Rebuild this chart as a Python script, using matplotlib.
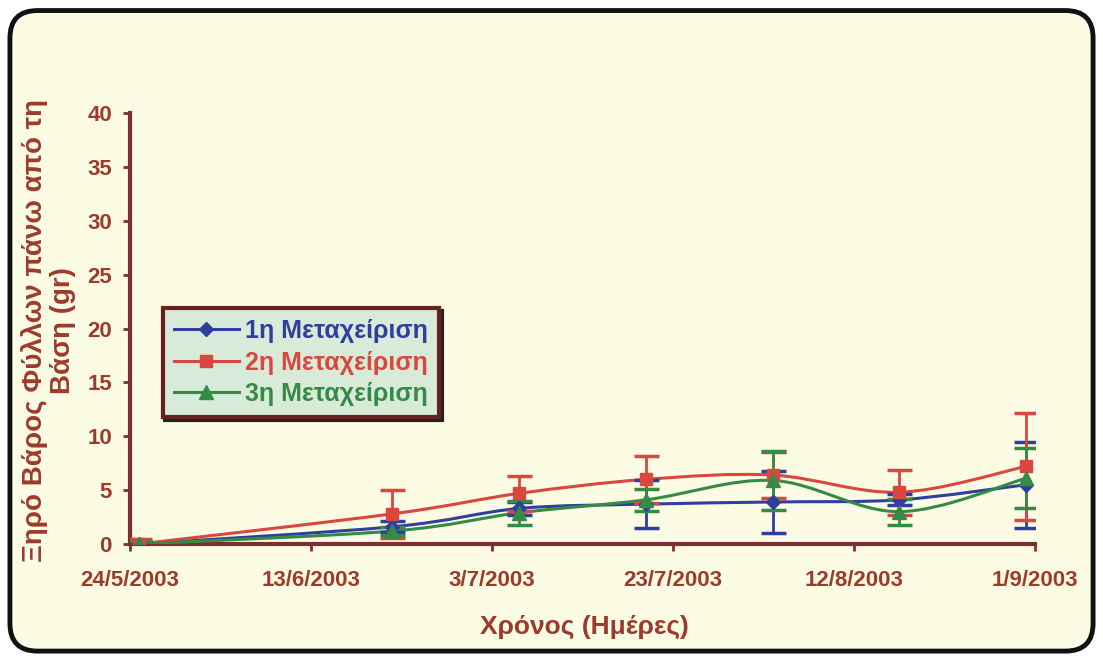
import matplotlib
matplotlib.use("Agg")
import matplotlib.pyplot as plt
from matplotlib.path import Path
from matplotlib.patches import PathPatch, FancyBboxPatch
from matplotlib.lines import Line2D
import pandas as pd
import numpy as np

# --- data ---
dates = ["2003-05-25", "2003-06-22", "2003-07-06", "2003-07-20",
         "2003-08-03", "2003-08-17", "2003-08-31"]
t1_mean = [0.0, 1.6, 3.3, 3.7, 3.9, 4.1, 5.5]
t1_err = [0.3, 0.5, 0.6, 2.2, 2.9, 0.5, 4.0]
t2_mean = [0.0, 2.8, 4.7, 6.0, 6.4, 4.8, 7.2]
t2_err = [0.5, 2.2, 1.6, 2.2, 2.1, 2.1, 5.0]
t3_mean = [0.0, 1.2, 2.9, 4.1, 5.9, 3.0, 6.1]
t3_err = [0.3, 0.4, 1.1, 1.0, 2.7, 1.2, 2.8]
labels = ["1η Μεταχείριση", "2η Μεταχείριση", "3η Μεταχείριση"]
xtick_dates = ["2003-05-24", "2003-06-13", "2003-07-03",
               "2003-07-23", "2003-08-12", "2003-09-01"]
xtick_labels = ["24/5/2003", "13/6/2003", "3/7/2003",
                "23/7/2003", "12/8/2003", "1/9/2003"]

BG = "#FCFCE4"
AXC = "#7E2E2E"
TXT = "#9E3A2C"
colors = ["#2F3FA0", "#D9473E", "#358A45"]
markers = ["D", "s", "^"]
msizes = [7, 9, 10]

t0 = pd.Timestamp("2003-05-24")
x = np.array([(pd.Timestamp(d) - t0).days for d in dates], dtype=float)
xt = [(pd.Timestamp(d) - t0).days for d in xtick_dates]


def smooth_path(xs, ys):
    # Bezier segments like the "smoothed line" option of spreadsheet charts
    pts = np.column_stack([xs, ys])
    verts = [pts[0]]
    codes = [Path.MOVETO]
    n = len(pts)
    for i in range(n - 1):
        p0 = pts[i - 1] if i > 0 else pts[i]
        p1, p2 = pts[i], pts[i + 1]
        p3 = pts[i + 2] if i + 2 < n else pts[i + 1]
        c1 = p1 + (p2 - p0) / 6.0
        c2 = p2 - (p3 - p1) / 6.0
        verts += [c1, c2, p2]
        codes += [Path.CURVE4] * 3
    return Path(verts, codes)


fig = plt.figure(figsize=(11.03, 6.59), dpi=100)
fig.patch.set_facecolor("white")
border = FancyBboxPatch((0.009, 0.012), 0.982, 0.972,
                        boxstyle="round,pad=0,rounding_size=0.025",
                        transform=fig.transFigure, facecolor=BG,
                        edgecolor="#111111", linewidth=3.5,
                        mutation_aspect=1103 / 659, zorder=-5)
fig.patches.append(border)

ax = fig.add_axes([0.1179, 0.1745, 0.8205, 0.654])
ax.patch.set_visible(False)

series = [(t1_mean, t1_err), (t2_mean, t2_err), (t3_mean, t3_err)]
for (m, e), c, mk, ms in zip(series, colors, markers, msizes):
    ax.add_patch(PathPatch(smooth_path(x, m), facecolor="none",
                           edgecolor=c, linewidth=2.2, zorder=3))
    ax.errorbar(x, m, yerr=e, fmt="none", ecolor=c, elinewidth=2,
                capsize=9, capthick=2.5, zorder=4)
    ax.plot(x, m, linestyle="none", marker=mk, color=c, markersize=ms,
            zorder=5)

ax.set_xlim(0, 100)
ax.set_ylim(0, 40)
ax.set_yticks(range(0, 41, 5))
ax.set_xticks(xt)
ax.set_xticklabels(xtick_labels)
for side in ["top", "right"]:
    ax.spines[side].set_visible(False)
for side in ["left", "bottom"]:
    ax.spines[side].set_color(AXC)
    ax.spines[side].set_linewidth(3)
ax.tick_params(colors=AXC, length=5, width=2, direction="out")
for lab in ax.get_xticklabels() + ax.get_yticklabels():
    lab.set_fontfamily("Liberation Sans")
    lab.set_fontweight("bold")
    lab.set_fontsize(16)
    lab.set_color(TXT)
ax.tick_params(axis="x", pad=14)
ax.tick_params(axis="y", pad=8)

fig.text(0.530, 0.048, "Χρόνος (Ημέρες)", ha="center", va="center",
         fontsize=19, color=TXT, family="Liberation Sans",
         fontweight="bold")
fig.text(0.031, 0.499, "Ξηρό Βάρος Φύλλων πάνω από τη", rotation=90,
         ha="center", va="center", fontsize=20, fontweight="bold",
         color=TXT, family="Liberation Sans")
fig.text(0.057, 0.499, "Βάση (gr)", rotation=90, ha="center", va="center",
         fontsize=20, fontweight="bold", color=TXT, family="Liberation Sans")

handles = [Line2D([], [], color=c, marker=mk, markersize=ms, linewidth=2.2)
           for c, mk, ms in zip(colors, markers, msizes)]
leg = ax.legend(handles, labels, loc="upper left",
                bbox_to_anchor=(0.036, 0.548), frameon=True, fancybox=False,
                shadow={"color": "#222222", "alpha": 1},
                facecolor="#D8EAD8", edgecolor="#6A1F1F", framealpha=1,
                handlelength=2.6, handletextpad=0.25, labelspacing=0.3,
                borderpad=0.45, borderaxespad=0,
                prop={"family": "Liberation Sans", "weight": "bold",
                      "size": 18})
leg.get_frame().set_linewidth(3)
for t, c in zip(leg.get_texts(), colors):
    t.set_color(c)

fig.savefig("out.png", dpi=100, facecolor=fig.get_facecolor())
